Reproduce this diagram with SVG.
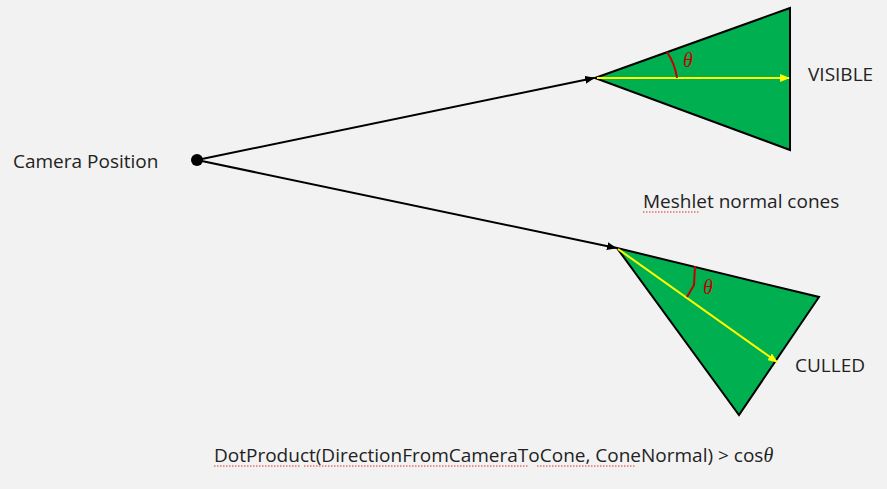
<svg xmlns="http://www.w3.org/2000/svg" width="887" height="489" viewBox="0 0 887 489">
<style>
.t{font-family:"Open Sans","Liberation Sans",sans-serif;font-size:19px;fill:#222}
.th{font-family:"Liberation Serif",serif;font-style:italic;font-size:20px;fill:#c00000}
.cone{fill:#00b050;stroke:#000;stroke-width:2}
.yl{stroke:#ffff00;stroke-width:2;fill:none}
.arc{stroke:#c00000;stroke-width:2;fill:none}
.con{stroke:#000;stroke-width:2;fill:none}
.sq{stroke:#e03030;stroke-width:1;stroke-dasharray:1.5 1.5}
</style>
<defs>
<marker id="ab" markerWidth="10" markerHeight="8" refX="9" refY="4" orient="auto" markerUnits="userSpaceOnUse"><path d="M0,0 L10,4 L0,8 z" fill="#000"/></marker>
<marker id="ay" markerWidth="10" markerHeight="8" refX="9" refY="4" orient="auto" markerUnits="userSpaceOnUse"><path d="M0,0 L10,4 L0,8 z" fill="#ffff00"/></marker>
</defs>
<rect width="887" height="489" fill="#f2f2f2"/>
<g id="camera">
<circle cx="197" cy="160" r="6" fill="#000"/>
<text class="t" x="13" y="168">Camera Position</text>
</g>
<g id="visible-cone">
<polygon class="cone" points="595,78 790,8 790,150"/>
<line class="yl" x1="597" y1="78" x2="789" y2="78" marker-end="url(#ay)"/>
<path class="arc" d="M667,52 Q675,64 677,78"/>
<text class="th" x="683" y="67">θ</text>
<text class="t" x="808" y="81">VISIBLE</text>
</g>
<g id="culled-cone">
<polygon class="cone" points="617,248 819,297 739,415"/>
<line class="yl" x1="618" y1="249" x2="777" y2="362" marker-end="url(#ay)"/>
<path class="arc" d="M695,266 L694,285 L687,297"/>
<text class="th" x="703" y="294">θ</text>
<text class="t" x="795" y="372">CULLED</text>
</g>
<g id="labels">
<text class="t" x="643" y="208">Meshlet normal cones</text>
<line class="sq" x1="643" y1="212" x2="700" y2="212"/>
<text class="t" x="214" y="462">DotProduct(DirectionFromCameraToCone, ConeNormal) &gt; cos<tspan class="th" style="fill:#222">θ</tspan></text>
<line class="sq" x1="214" y1="466" x2="300" y2="466"/>
<line class="sq" x1="304" y1="466" x2="528" y2="466"/>
<line class="sq" x1="537" y1="466" x2="635" y2="466"/>
</g>
<g id="connectors">
<line class="con" x1="197" y1="160" x2="594" y2="78" marker-end="url(#ab)"/>
<line class="con" x1="197" y1="160" x2="616" y2="248" marker-end="url(#ab)"/>
</g>
</svg>
